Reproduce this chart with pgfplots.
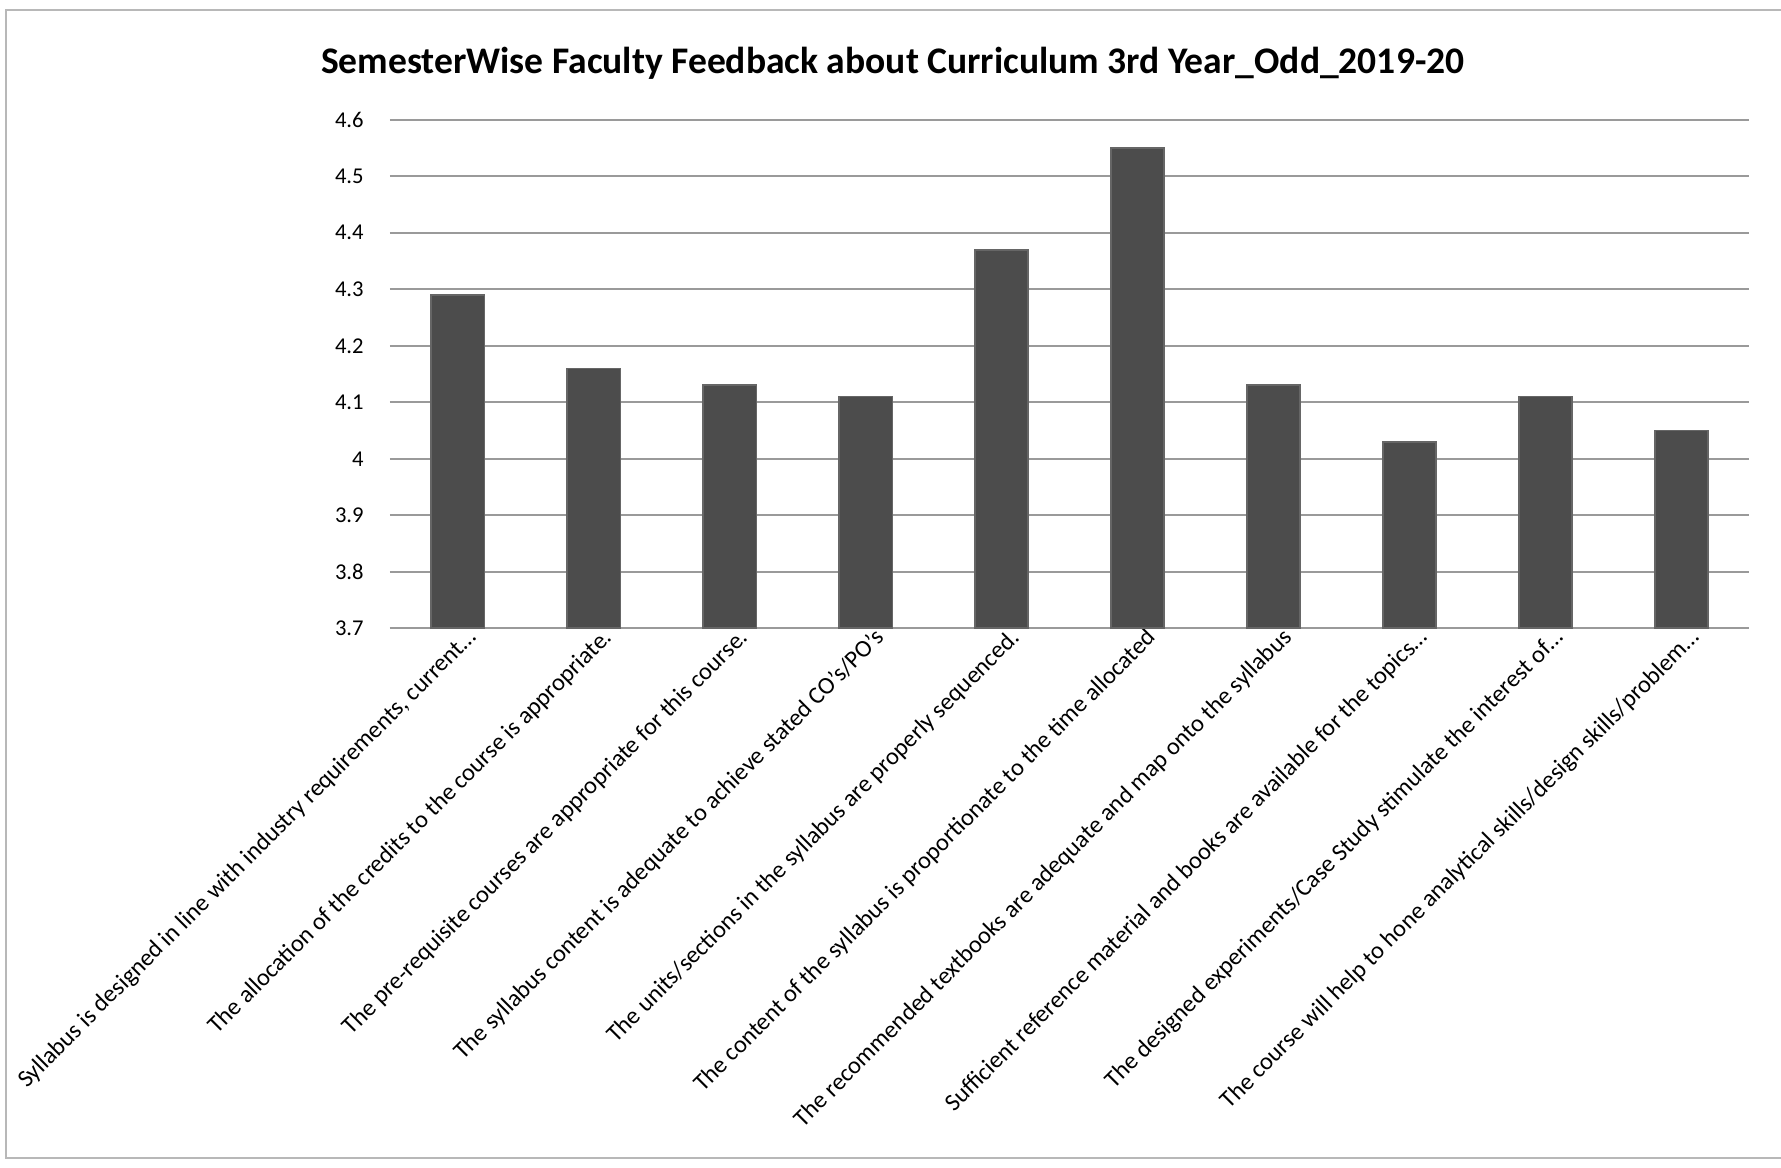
\documentclass[border=0pt]{standalone}
\usepackage{pgfplots}
\pgfplotsset{compat=1.18}
\usepackage{fontspec}
\setmainfont{Carlito}

\definecolor{barfill}{HTML}{4C4C4C}
\definecolor{baredge}{HTML}{666666}
\definecolor{gridgray}{HTML}{9A9A9A}

\begin{document}
\begin{tikzpicture}
  \path[use as bounding box] (-3.94cm,-5.45cm) rectangle (14.06cm,6.35cm);
  \draw[gridgray!70, line width=0.6pt] (-3.88cm,-5.35cm) rectangle (14.3cm,6.25cm);
	\begin{axis}[
	    at={(0,0)}, anchor=south west,
	    scale only axis,
	    width=13.74cm, height=5.14cm,
	    ybar, bar width=0.54cm,
	    xmin=-0.5, xmax=9.5,
	    ymin=3.7, ymax=4.6,
	    ytick={3.7,3.8,...,4.61},
	    xtick=data,
	    xticklabels={
	      {Syllabus is designed in line with industry requirements, current…},
	      {The allocation of the credits to the course is appropriate.},
	      {The pre-requisite courses are appropriate for this course.},
	      {The syllabus content is adequate to achieve stated CO's/PO's},
	      {The units/sections in the syllabus are properly sequenced.},
	      {The content of the syllabus is proportionate to the time allocated},
	      {The recommended textbooks are adequate and map onto the syllabus},
	      {Sufficient reference material and books are available for the topics…},
	      {The designed experiments/Case Study stimulate the interest of…},
	      {The course will help to hone analytical skills/design skills/problem…}},
	    x tick label style={rotate=45, anchor=north east, font=\fontsize{7}{8}\selectfont, inner sep=1pt, xshift=3pt},
	    /pgf/number format/assume math mode=true,
	    yticklabel style={font=\fontsize{6.5}{8}\selectfont, /pgf/number format/fixed, /pgf/number format/precision=1, xshift=-4pt},
	    major tick length=0pt,
	    axis y line*=left,
	    y axis line style={draw=none},
	    axis x line*=bottom,
	    x axis line style={gridgray, line width=0.6pt, -},
	    ymajorgrids=true,
	    grid style={gridgray, line width=0.6pt},
	    title={\bfseries SemesterWise Faculty Feedback about Curriculum 3rd Year\_Odd\_2019-20},
	    title style={font=\fontsize{10.8}{13}\selectfont, at={(0.37,1)}, anchor=south, yshift=2pt},
	]
	\addplot[fill=barfill, draw=baredge, line width=0.5pt] coordinates {
	    (0,4.29) (1,4.16) (2,4.13) (3,4.11) (4,4.37)
	    (5,4.55) (6,4.13) (7,4.03) (8,4.11) (9,4.05)};
	\end{axis}
\end{tikzpicture}
\end{document}
